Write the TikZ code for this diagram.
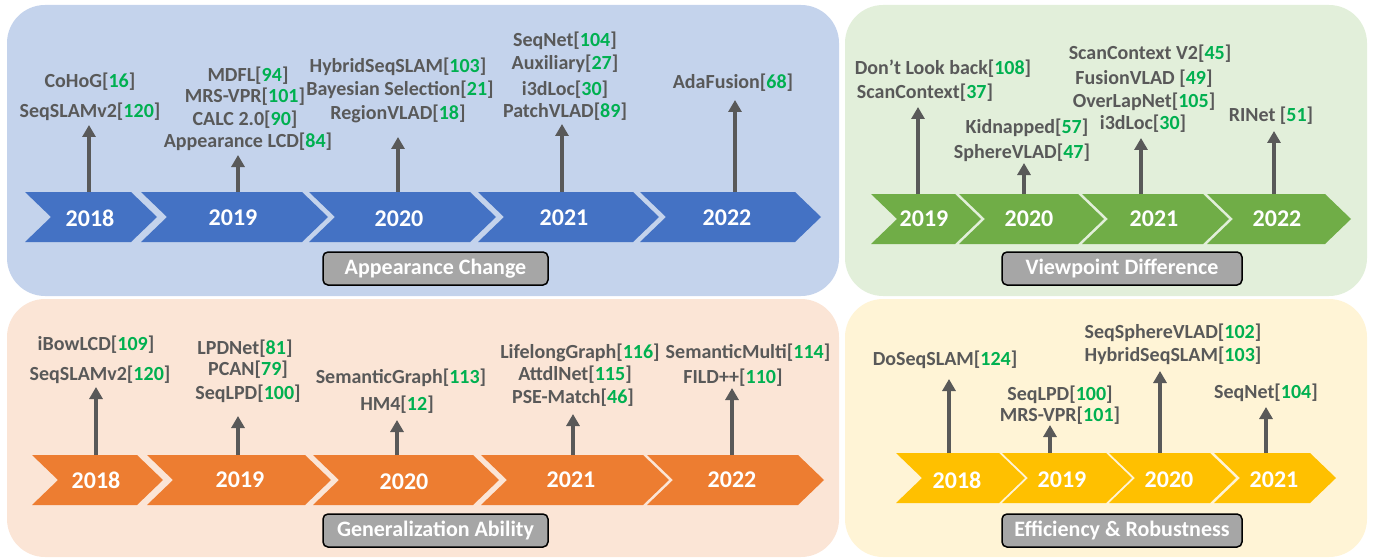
\documentclass[tikz,border=0pt]{standalone}
\usepackage{fontspec}
\setmainfont{Carlito}
\usepackage{xcolor}
\usetikzlibrary{arrows.meta}

\definecolor{txtgray}{HTML}{595959}
\definecolor{refgreen}{HTML}{00B050}
\definecolor{cblue}{HTML}{4472C4}
\definecolor{cgreen}{HTML}{70AD47}
\definecolor{corange}{HTML}{ED7D31}
\definecolor{cyellow}{HTML}{FFC000}
\definecolor{pblue}{HTML}{C4D3EC}
\definecolor{pgreen}{HTML}{E2EFDA}
\definecolor{porange}{HTML}{FBE5D6}
\definecolor{pyellow}{HTML}{FFF4D6}
\definecolor{taggray}{HTML}{A6A6A6}

\tikzstyle{panel}=[rounded corners=38pt]
\tikzstyle{lbl}=[text = txtgray, font = \fontsize{20}{21}\selectfont\bfseries, inner sep = 0pt]
\tikzstyle{year}=[text = white, font = \fontsize{24}{26}\selectfont\bfseries, inner sep = 0pt]
\tikzstyle{tag}=[
    draw = black,
    line width = 1.5pt,
    fill = taggray,
    rounded corners = 5pt,
    text = white,
    font = \fontsize{22}{23}\selectfont\bfseries
]
\tikzstyle{up}=[draw = txtgray, line width = 4pt, -{Triangle[width=13pt,length=12pt]}]

\newcommand{\rf}[1]{[\textcolor{refgreen}{#1}]}
% chevron: colour, left x, top-right x, top y
\newcommand{\chev}[4]{\fill[#1] (#2,#4) -- (#3,#4) -- ++(26,25) -- ++(-26,25) -- (#2,#4+50) -- ++(26,-25) -- cycle;}

\begin{document}
\begin{tikzpicture}[x=1pt, y=-1pt]
        \useasboundingbox (0,0) rectangle (1376,559);

        \fill[pblue, panel] (7,5) rectangle (839,296);
        \fill[pgreen, panel] (845,5) rectangle (1367,296);
        \fill[porange, panel] (7,299) rectangle (839,557);
        \fill[pyellow, panel] (845,299) rectangle (1367,557);

        % appearance change
        \chev{cblue}{25}{131}{192}
        \chev{cblue}{141}{302}{192}
        \chev{cblue}{309}{470}{192}
        \chev{cblue}{478}{633}{192}
        \chev{cblue}{640}{795}{192}
        \node[year] (b18) at (90,218) {2018};
        \node[year] (b19) at (233,218) {2019};
        \node[year] (b20) at (399,219) {2020};
        \node[year] (b21) at (564,218) {2021};
        \node[year] (b22) at (727,218) {2022};

        \node[lbl] (b18a) at (90,82) {CoHoG\rf{16}};
        \node[lbl] (b18b) at (90,112) {SeqSLAMv2\rf{120}};
        \node[lbl] (b19a) at (248,76) {MDFL\rf{94}};
        \node[lbl] (b19b) at (245,97) {MRS-VPR\rf{101}};
        \node[lbl] (b19c) at (245,120) {CALC 2.0\rf{90}};
        \node[lbl] (b19d) at (248,142) {Appearance LCD\rf{84}};
        \node[lbl] (b20a) at (398,67) {HybridSeqSLAM\rf{103}};
        \node[lbl] (b20b) at (400,90) {Bayesian Selection\rf{21}};
        \node[lbl] (b20c) at (398,114) {RegionVLAD\rf{18}};
        \node[lbl] (b21a) at (565,41) {SeqNet\rf{104}};
        \node[lbl] (b21b) at (565,64) {Auxiliary\rf{27}};
        \node[lbl] (b21c) at (565,90) {i3dLoc\rf{30}};
        \node[lbl] (b21d) at (565,112) {PatchVLAD\rf{89}};
        \node[lbl] (b22a) at (733,83) {AdaFusion\rf{68}};

        \coordinate (bs1) at (89,192);  \coordinate (bt1) at (89,125);
        \coordinate (bs2) at (238,192); \coordinate (bt2) at (238,155);
        \coordinate (bs3) at (398,192); \coordinate (bt3) at (398,137);
        \coordinate (bs4) at (562,192); \coordinate (bt4) at (562,124);
        \coordinate (bs5) at (735,192); \coordinate (bt5) at (735,100);
        \foreach \i in {1,...,5}
            \draw[up] (bs\i) -- (bt\i);

        \node[tag, minimum width=225pt, minimum height=33pt] (tb) at (435.5,268.5) {Appearance Change};

        % viewpoint difference
        \chev{cgreen}{871}{955}{194}
        \chev{cgreen}{959}{1078}{194}
        \chev{cgreen}{1082}{1203}{194}
        \chev{cgreen}{1207}{1325}{194}
        \node[year] (g19) at (924,219) {2019};
        \node[year] (g20) at (1029,219) {2020};
        \node[year] (g21) at (1154,219) {2021};
        \node[year] (g22) at (1277,219) {2022};

        \node[lbl] (g19a) at (943,69) {Don’t Look back\rf{108}};
        \node[lbl] (g19b) at (925,93) {ScanContext\rf{37}};
        \node[lbl] (g20a) at (1027,128) {Kidnapped\rf{57}};
        \node[lbl] (g20b) at (1022,153) {SphereVLAD\rf{47}};
        \node[lbl] (g21a) at (1150,54) {ScanContext V2\rf{45}};
        \node[lbl] (g21b) at (1144,79) {FusionVLAD \rf{49}};
        \node[lbl] (g21c) at (1144,102) {OverLapNet\rf{105}};
        \node[lbl] (g21d) at (1143,124) {i3dLoc\rf{30}};
        \node[lbl] (g22a) at (1271,116) {RINet \rf{51}};

        \coordinate (gs1) at (918,194);  \coordinate (gt1) at (918,107);
        \coordinate (gs2) at (1024,194); \coordinate (gt2) at (1024,163);
        \coordinate (gs3) at (1141,194); \coordinate (gt3) at (1141,138);
        \coordinate (gs4) at (1274,194); \coordinate (gt4) at (1274,131);
        \foreach \i in {1,...,4}
            \draw[up] (gs\i) -- (gt\i);

        \node[tag, minimum width=240pt, minimum height=33pt] (tg) at (1122,268.5) {Viewpoint Difference};

        % generalization ability
        \chev{corange}{32}{137}{455}
        \chev{corange}{147}{305}{455}
        \chev{corange}{313}{473}{455}
        \chev{corange}{481}{643}{455}
        \chev{corange}{647}{798}{455}
        \node[year] (o18) at (96,480) {2018};
        \node[year] (o19) at (240,480) {2019};
        \node[year] (o20) at (404,482) {2020};
        \node[year] (o21) at (571,480) {2021};
        \node[year] (o22) at (732,480) {2022};

        \node[lbl] (o18a) at (96,345) {iBowLCD\rf{109}};
        \node[lbl] (o18b) at (100,375) {SeqSLAMv2\rf{120}};
        \node[lbl] (o19a) at (245,349) {LPDNet\rf{81}};
        \node[lbl] (o19b) at (248,370) {PCAN\rf{79}};
        \node[lbl] (o19c) at (248,394) {SeqLPD\rf{100}};
        \node[lbl] (o20a) at (401,378) {SemanticGraph\rf{113}};
        \node[lbl] (o20b) at (397,405) {HM4\rf{12}};
        \node[lbl] (o21a) at (580,353) {LifelongGraph\rf{116}};
        \node[lbl] (o21b) at (575,375) {AttdlNet\rf{115}};
        \node[lbl] (o21c) at (573,398) {PSE-Match\rf{46}};
        \node[lbl] (o22a) at (748,353) {SemanticMulti\rf{114}};
        \node[lbl] (o22b) at (733,378) {FILD++\rf{110}};

        \coordinate (os1) at (96,455);  \coordinate (ot1) at (96,387);
        \coordinate (os2) at (238,455); \coordinate (ot2) at (238,416);
        \coordinate (os3) at (397,455); \coordinate (ot3) at (397,420);
        \coordinate (os4) at (573,455); \coordinate (ot4) at (573,414);
        \coordinate (os5) at (732,455); \coordinate (ot5) at (732,388);
        \foreach \i in {1,...,5}
            \draw[up] (os\i) -- (ot\i);

        \node[tag, minimum width=225pt, minimum height=33pt] (to) at (435.5,530.5) {Generalization Ability};

        % efficiency and robustness
        \chev{cyellow}{896}{999}{453}
        \chev{cyellow}{1002}{1106}{453}
        \chev{cyellow}{1109}{1210}{453}
        \chev{cyellow}{1214}{1310}{453}
        \node[year] (y18) at (957,480) {2018};
        \node[year] (y19) at (1062,480) {2019};
        \node[year] (y20) at (1169,480) {2020};
        \node[year] (y21) at (1274,480) {2021};

        \node[lbl] (y18a) at (945,360) {DoSeqSLAM\rf{124}};
        \node[lbl] (y19a) at (1060,395) {SeqLPD\rf{100}};
        \node[lbl] (y19b) at (1060,416) {MRS-VPR\rf{101}};
        \node[lbl] (y20a) at (1173,333) {SeqSphereVLAD\rf{102}};
        \node[lbl] (y20b) at (1173,356) {HybridSeqSLAM\rf{103}};
        \node[lbl] (y21a) at (1266,393) {SeqNet\rf{104}};

        \coordinate (ys1) at (949,453);  \coordinate (yt1) at (949,379);
        \coordinate (ys2) at (1050,453); \coordinate (yt2) at (1050,425);
        \coordinate (ys3) at (1160,453); \coordinate (yt3) at (1160,371);
        \coordinate (ys4) at (1266,453); \coordinate (yt4) at (1266,407);
        \foreach \i in {1,...,4}
            \draw[up] (ys\i) -- (yt\i);

        \node[tag, minimum width=240pt, minimum height=33pt] (ty) at (1122,530.5) {Efficiency \& Robustness};

    \end{tikzpicture}
\end{document}
